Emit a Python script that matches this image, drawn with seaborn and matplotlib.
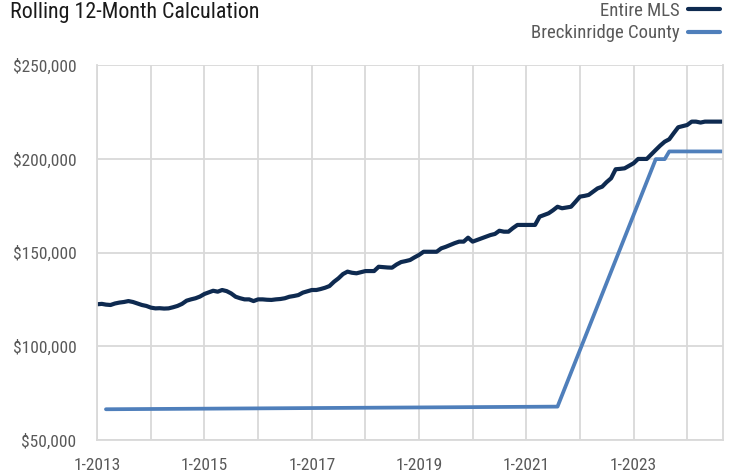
import matplotlib
matplotlib.use("Agg")
import matplotlib.pyplot as plt
import matplotlib.font_manager as fm
import matplotlib.ticker as mticker
from matplotlib.lines import Line2D
import pandas as pd
import seaborn as sns

# Entire MLS, rolling 12-month value, monthly from 1-2013
mls_values = [
    122400, 122600, 122200, 122000, 122800, 123300, 123600, 124100, 123600, 122800, 122000, 121500,
    120600, 120200, 120300, 120100, 120200, 120800, 121500, 122600, 124300, 125000, 125600, 126500,
    127900, 128800, 129600, 129100, 130000, 129400, 128200, 126400, 125600, 125000, 125000, 124100,
    125000, 125000, 124800, 124700, 125000, 125200, 125600, 126400, 126800, 127300, 128600, 129300,
    130000, 130000, 130500, 131200, 132100, 134400, 136200, 138500, 139800, 139200, 138900, 139500,
    140100, 140100, 140100, 142400, 142200, 142000, 141900, 143600, 144900, 145400, 146000, 147400,
    148700, 150400, 150400, 150400, 150400, 152200, 153000, 154000, 155000, 155800, 155800, 157900,
    155800, 156700, 157600, 158400, 159300, 159900, 161600, 161100, 161100, 163000, 164700, 164700,
    164700, 164700, 164700, 169100, 170000, 170900, 172500, 174400, 173600, 174000, 174400, 177000,
    179800, 180200, 180700, 182500, 184200, 185100, 187500, 189600, 194400, 194600, 194900, 196200,
    197600, 199900, 199900, 199900, 202300, 204700, 207000, 209100, 210400, 213600, 216800, 217400,
    218000, 219800, 219800, 219300, 219800, 219800, 219800, 219800, 219800,
]
mls_dates = pd.date_range("2013-01-01", periods=len(mls_values), freq="MS")

# Breckinridge County has only a few points, joined by straight lines
county_dates = pd.to_datetime(["2013-03-01", "2021-08-01", "2023-06-01",
                               "2023-08-01", "2023-09-01", "2024-09-01"])
county_values = [66400, 67800, 199800, 199800, 203900, 203900]

y_ticks = [50000, 100000, 150000, 200000, 250000]

df = pd.concat([
    pd.DataFrame({"date": mls_dates, "value": mls_values, "area": "Entire MLS"}),
    pd.DataFrame({"date": county_dates, "value": county_values, "area": "Breckinridge County"}),
])

names = {f.name for f in fm.fontManager.ttflist}
font = next((n for n in ["Liberation Sans Narrow", "Roboto Condensed", "Liberation Sans"] if n in names),
            "DejaVu Sans")

sns.set_style("white")
plt.rcParams["font.family"] = [font, "DejaVu Sans"]

grid_col = "#d9d9d9"
text_col = "#595959"
colors = {"Entire MLS": "#0e2a50", "Breckinridge County": "#4f7fbb"}

fig = plt.figure(figsize=(7.33, 4.76), dpi=100)
ax = fig.add_axes([97.3 / 733, 1 - 440 / 476, (723 - 97.3) / 733, (440 - 65) / 476])

sns.lineplot(data=df, x="date", y="value", hue="area", palette=colors, ax=ax,
             linewidth=3.0, legend=False, estimator=None, sort=True)
for line in ax.lines:
    line.set_solid_capstyle("round")
    line.set_solid_joinstyle("round")
ax.lines[1].set_linewidth(2.7)

ax.set_xlim(mls_dates[0], mls_dates[-1])
ax.set_ylim(50000, 250000)
ax.set_yticks(y_ticks)
ax.yaxis.set_major_formatter(mticker.StrMethodFormatter("${x:,.0f}"))

years = pd.date_range("2013-01-01", "2024-01-01", freq="YS")
ax.set_xticks(years)
ax.set_xticklabels([f"1-{d.year}" if d.year % 2 == 1 else "" for d in years])

ax.grid(True, color=grid_col, linewidth=1.3)
ax.set_axisbelow(True)
ax.spines["top"].set_visible(False)
for side in ["left", "bottom", "right"]:
    ax.spines[side].set_color(grid_col)
    ax.spines[side].set_linewidth(1.3)
ax.tick_params(axis="both", colors=grid_col, length=6, width=1.3, labelcolor=text_col, labelsize=12.5)
ax.tick_params(axis="x", pad=7)
ax.tick_params(axis="y", pad=9)
ax.set_xlabel("")
ax.set_ylabel("")

fig.text(10 / 733, 1 - 18 / 476, "Rolling 12-Month Calculation", fontsize=15.8, color="#1a1a1a",
         ha="left", va="baseline")

handles = [Line2D([], [], color=colors[k], linewidth=3.0) for k in colors]
fig.legend(handles, list(colors), loc="upper right", bbox_to_anchor=(727 / 733, 1 + 6 / 476),
           frameon=False, markerfirst=False, fontsize=13.5, labelcolor=text_col,
           handlelength=1.7, handletextpad=0.45, labelspacing=0.25, borderaxespad=0)

fig.savefig("out.png", dpi=100)
